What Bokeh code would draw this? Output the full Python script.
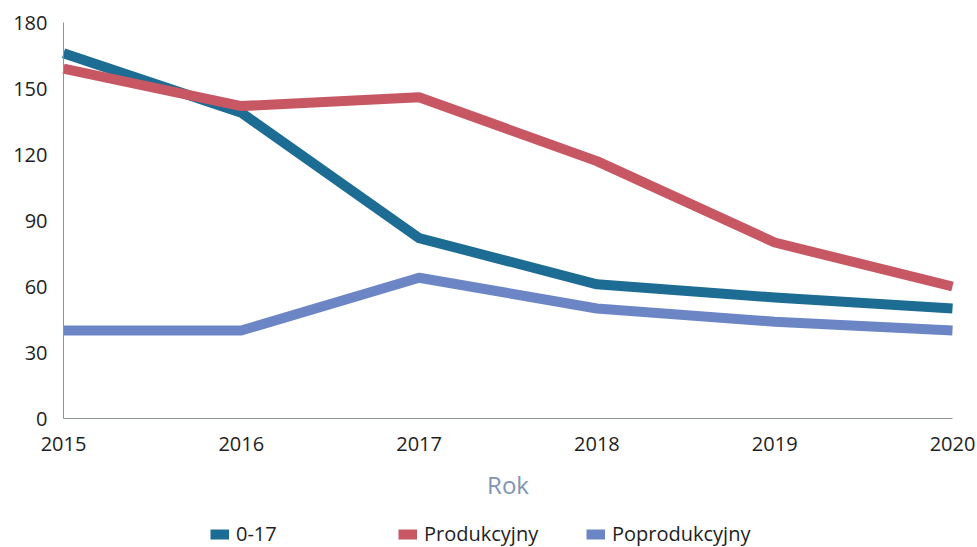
from bokeh.plotting import figure
from bokeh.models import Range1d, FixedTicker, Legend, LegendItem
from bokeh.embed import file_html
from bokeh.resources import INLINE

years = [2015, 2016, 2017, 2018, 2019, 2020]
age_0_17 = [166, 139, 82, 61, 55, 50]
produkcyjny = [159, 142, 146, 117, 80, 60]
poprodukcyjny = [40, 40, 64, 50, 44, 40]
y_ticks = [0, 30, 60, 90, 120, 150, 180]

FONT = "Open Sans"

# the frame covers the whole figure; both axes are pinned inside it
PX_PER_YEAR = 889 / 5
PX_PER_UNIT = 396 / 180
X_MIN = years[0] - 63 / PX_PER_YEAR
X_MAX = years[-1] + 25 / PX_PER_YEAR
Y_MAX = 180 + 22 / PX_PER_UNIT
Y_MIN = -129 / PX_PER_UNIT

p = figure(frame_width=977, frame_height=547, output_backend="svg", toolbar_location=None,
           x_range=Range1d(X_MIN, X_MAX), y_range=Range1d(Y_MIN, Y_MAX),
           min_border_left=0, min_border_right=0, min_border_top=0, min_border_bottom=0)
p.outline_line_color = None
p.xgrid.grid_line_color = None
p.ygrid.grid_line_color = None

r1 = p.line(years, age_0_17, line_width=10, color="#1d6c93", line_join="round")
r2 = p.line(years, produkcyjny, line_width=10, color="#c75763", line_join="round")
r3 = p.line(years, poprodukcyjny, line_width=10, color="#6c86c5", line_join="round")

for ax in (p.xaxis, p.yaxis):
    ax.axis_line_color = "#8a939e"
    ax.axis_line_width = 1
    ax.major_tick_line_color = None
    ax.minor_tick_line_color = None
    ax.major_tick_out = 0
    ax.major_tick_in = 0
    ax.major_label_text_font = FONT
    ax.major_label_text_font_size = "20px"
    ax.major_label_text_color = "#1e1e1e"

p.xaxis.fixed_location = 0
p.yaxis.fixed_location = years[0]
p.xaxis.bounds = (years[0], years[-1])
p.yaxis.bounds = (0, 180)
p.xaxis.ticker = FixedTicker(ticks=years)
p.yaxis.ticker = FixedTicker(ticks=y_ticks)
p.xaxis.major_label_standoff = 18
p.yaxis.major_label_standoff = 16
p.xaxis.axis_label = "Rok"
p.xaxis.axis_label_text_font = FONT
p.xaxis.axis_label_text_font_style = "normal"
p.xaxis.axis_label_text_font_size = "24px"
p.xaxis.axis_label_text_color = "#7f95b3"
p.xaxis.axis_label_standoff = 14

legend = Legend(items=[LegendItem(label="0-17", renderers=[r1]),
                       LegendItem(label="Produkcyjny", renderers=[r2]),
                       LegendItem(label="Poprodukcyjny", renderers=[r3])],
                orientation="horizontal", location=(210, 0),
                label_text_font=FONT, label_text_font_size="20px",
                label_text_color="#1e1e1e", label_width=130, spacing=32,
                label_height=20, glyph_width=19, glyph_height=12, label_standoff=7,
                margin=0, padding=2,
                border_line_color=None, background_fill_alpha=0)
p.add_layout(legend, "center")

open("out.html", "w").write(file_html(p, INLINE))
